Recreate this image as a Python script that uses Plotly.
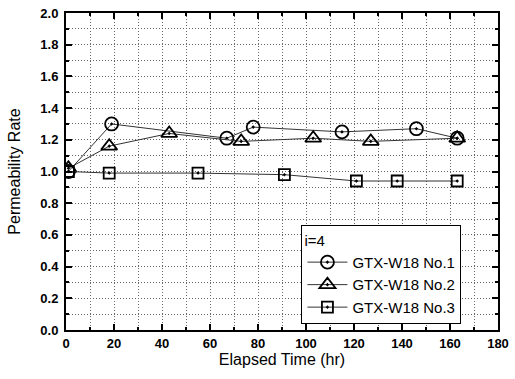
import plotly.graph_objects as go

# Data
x1 = [1, 19, 67, 78, 115, 146, 163]
y1 = [1.00, 1.30, 1.21, 1.28, 1.25, 1.27, 1.21]
x2 = [1, 18, 43, 73, 103, 127, 163]
y2 = [1.02, 1.16, 1.24, 1.19, 1.21, 1.19, 1.21]
x3 = [1, 18, 55, 91, 121, 138, 163]
y3 = [1.00, 0.99, 0.99, 0.98, 0.94, 0.94, 0.94]
names = ["GTX-W18 No.1", "GTX-W18 No.2", "GTX-W18 No.3"]
legend_title = "i=4"
x_title = "Elapsed Time (hr)"
y_title = "Permeability Rate"

fig = go.Figure()
series = [
    (x1, y1, "circle-open-dot", 13),
    (x2, y2, "triangle-up-open-dot", 14),
    (x3, y3, "square-open-dot", 11),
]
for (xs, ys, sym, sz), nm in zip(series, names):
    fig.add_trace(go.Scatter(
        x=xs, y=ys, name=nm, mode="lines+markers",
        line=dict(color="#333333", width=1),
        marker=dict(symbol=sym, size=sz, color="black",
                    line=dict(color="black", width=1.8)),
    ))

GRID = "#666666"
DASH = "1px,2px"
axis_common = dict(
    showline=True, linecolor="black", linewidth=2, mirror="ticks",
    ticks="inside", ticklen=6, tickwidth=1.5, tickcolor="black",
    showgrid=True, gridcolor=GRID, griddash=DASH, gridwidth=1,
    zeroline=False, automargin=False,
    tickfont=dict(family="Liberation Sans, Arial", size=13, color="black", weight="bold"),
    title_font=dict(family="Liberation Sans, Arial", size=16, color="black"),
)

fig.update_xaxes(
    range=[0, 180], tick0=0, dtick=20, title_text=x_title, title_standoff=4,
    minor=dict(dtick=10, showgrid=True, gridcolor=GRID, griddash=DASH,
               ticks="inside", ticklen=3, tickcolor="black"),
    **axis_common,
)
fig.update_yaxes(
    range=[0, 2.0], tick0=0, dtick=0.2, tickformat=".1f", title_text=y_title,
    title_standoff=16, ticklabelstandoff=3,
    minor=dict(dtick=0.1, showgrid=True, gridcolor=GRID, griddash=DASH,
               ticks="inside", ticklen=3, tickcolor="black"),
    **axis_common,
)

fig.update_layout(
    width=515, height=379,
    margin=dict(l=66, r=17, t=13, b=49),
    plot_bgcolor="white", paper_bgcolor="white",
    font=dict(family="Liberation Sans, Arial", color="black"),
    legend=dict(
        title=dict(text=legend_title, font=dict(size=15)),
        x=0.545, y=0.33, xanchor="left", yanchor="top",
        bgcolor="white", bordercolor="black", borderwidth=1,
        font=dict(size=15, color="black"), itemwidth=40,
        tracegroupgap=0,
    ),
)

fig.write_html("out.html", config={"displayModeBar": False},
               post_script="document.body.style.margin='0';")
